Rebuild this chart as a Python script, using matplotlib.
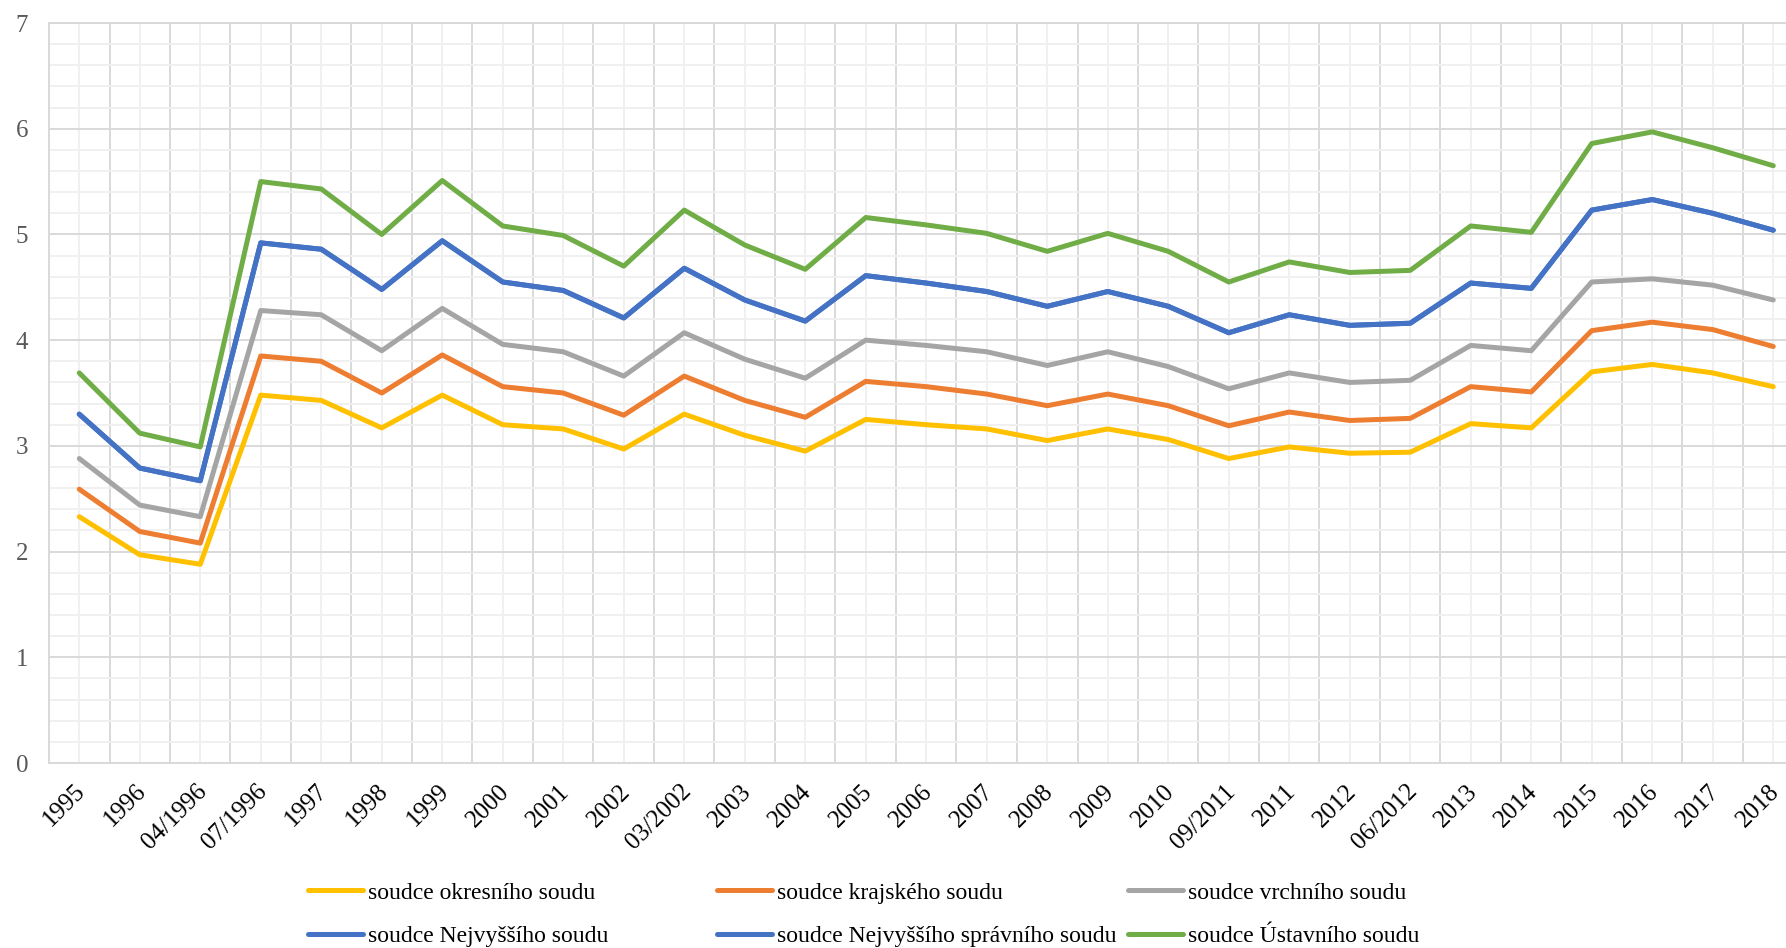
import numpy as np
import matplotlib.pyplot as plt
from matplotlib.ticker import MultipleLocator
from matplotlib.transforms import ScaledTranslation

plt.rcParams['font.family'] = ['Liberation Serif', 'DejaVu Serif']

# rok / datum změny platu
obdobi = ['1995', '1996', '04/1996', '07/1996', '1997', '1998', '1999', '2000', '2001', '2002',
          '03/2002', '2003', '2004', '2005', '2006', '2007', '2008', '2009', '2010', '09/2011',
          '2011', '2012', '06/2012', '2013', '2014', '2015', '2016', '2017', '2018']

okresni = [2.33, 1.97, 1.88, 3.48, 3.43, 3.17, 3.48, 3.20, 3.16, 2.97,
           3.30, 3.10, 2.95, 3.25, 3.20, 3.16, 3.05, 3.16, 3.06, 2.88,
           2.99, 2.93, 2.94, 3.21, 3.17, 3.70, 3.77, 3.69, 3.56]
krajsky = [2.59, 2.19, 2.08, 3.85, 3.80, 3.50, 3.86, 3.56, 3.50, 3.29,
           3.66, 3.43, 3.27, 3.61, 3.56, 3.49, 3.38, 3.49, 3.38, 3.19,
           3.32, 3.24, 3.26, 3.56, 3.51, 4.09, 4.17, 4.10, 3.94]
vrchni = [2.88, 2.44, 2.33, 4.28, 4.24, 3.90, 4.30, 3.96, 3.89, 3.66,
          4.07, 3.82, 3.64, 4.00, 3.95, 3.89, 3.76, 3.89, 3.75, 3.54,
          3.69, 3.60, 3.62, 3.95, 3.90, 4.55, 4.58, 4.52, 4.38]
nejvyssi = [3.30, 2.79, 2.67, 4.92, 4.86, 4.48, 4.94, 4.55, 4.47, 4.21,
            4.68, 4.38, 4.18, 4.61, 4.54, 4.46, 4.32, 4.46, 4.32, 4.07,
            4.24, 4.14, 4.16, 4.54, 4.49, 5.23, 5.33, 5.20, 5.04]
nejvyssi_spravni = [3.30, 2.79, 2.67, 4.92, 4.86, 4.48, 4.94, 4.55, 4.47, 4.21,
                    4.68, 4.38, 4.18, 4.61, 4.54, 4.46, 4.32, 4.46, 4.32, 4.07,
                    4.24, 4.14, 4.16, 4.54, 4.49, 5.23, 5.33, 5.20, 5.04]
ustavni = [3.69, 3.12, 2.99, 5.50, 5.43, 5.00, 5.51, 5.08, 4.99, 4.70,
           5.23, 4.90, 4.67, 5.16, 5.09, 5.01, 4.84, 5.01, 4.84, 4.55,
           4.74, 4.64, 4.66, 5.08, 5.02, 5.86, 5.97, 5.82, 5.65]

serie = [
    ('soudce okresního soudu', okresni, '#FFC000'),
    ('soudce krajského soudu', krajsky, '#ED7D31'),
    ('soudce vrchního soudu', vrchni, '#A5A5A5'),
    ('soudce Nejvyššího soudu', nejvyssi, '#4472C4'),
    ('soudce Nejvyššího správního soudu', nejvyssi_spravni, '#4472C4'),
    ('soudce Ústavního soudu', ustavni, '#70AD47'),
]

W, H = 1786, 948
fig = plt.figure(figsize=(W / 100, H / 100), dpi=100)
n = len(obdobi)
# graf přesahuje pravý okraj obrázku
ax = fig.add_axes([49 / W, (H - 763) / H, n * 60.5 / W, 740 / H])

x = np.arange(n)
handles = []
for nazev, hodnoty, barva in serie:
    h, = ax.plot(x, hodnoty, color=barva, lw=3.6, solid_capstyle='round',
                 solid_joinstyle='round', label=nazev, zorder=3)
    handles.append(h)

ax.set_xlim(-0.5, n - 0.5)
ax.set_ylim(0, 7)

ax.yaxis.set_major_locator(MultipleLocator(1))
ax.yaxis.set_minor_locator(MultipleLocator(0.2))
ax.tick_params(axis='y', labelsize=18, labelcolor='#595959', pad=15)
ax.tick_params(which='both', length=0)
ax.tick_params(axis='x', pad=0)

ax.set_xticks(x)
ax.set_xticklabels(obdobi, rotation=45, ha='right', va='center',
                   rotation_mode='anchor', fontsize=18, color='black')
# popisky os posunuté pod osu (až po tick_params, který transformaci přepisuje)
posun = ScaledTranslation(3 / 100, -25 / 100, fig.dpi_scale_trans)
for lbl in ax.get_xticklabels():
    lbl.set_transform(lbl.get_transform() + posun)
ax.set_xticks(np.arange(n + 1) - 0.5, minor=True)

ax.grid(which='minor', axis='x', color='#d9d9d9', lw=1.4)
ax.grid(which='major', axis='x', color='#f0f0f0', lw=1.4)
ax.grid(which='major', axis='y', color='#d9d9d9', lw=1.4)
ax.grid(which='minor', axis='y', color='#f0f0f0', lw=1.4)
ax.set_axisbelow(True)
for s in ax.spines.values():
    s.set_color('#d9d9d9')
    s.set_linewidth(1.4)

# legenda ve třech sloupcích po dvou položkách
sloupce = [(308, [0, 3]), (717, [1, 4]), (1128, [2, 5])]
for x0, idx in sloupce:
    fig.legend([handles[i] for i in idx], [serie[i][0] for i in idx],
               loc='upper left', bbox_to_anchor=(x0 / W, (H - 882) / H),
               frameon=False, fontsize=17, handlelength=2.35, handletextpad=0.2,
               labelspacing=0.95, borderpad=0, borderaxespad=0)

fig.savefig('out.png', dpi=100)
